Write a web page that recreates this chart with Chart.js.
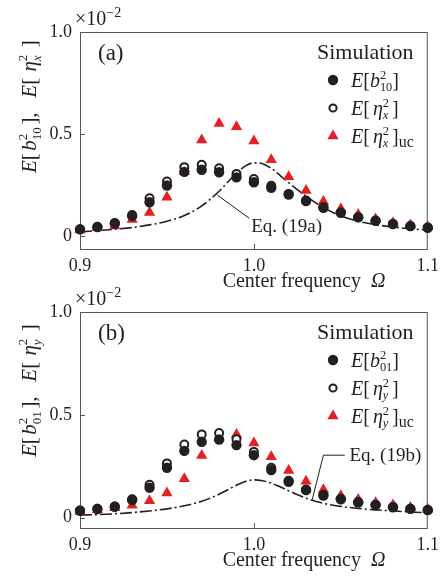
<!DOCTYPE html>
<html>
<head>
<meta charset="utf-8">
<script src="https://cdn.jsdelivr.net/npm/chart.js@4.4.1/dist/chart.umd.min.js"></script>
<style>
  body { margin: 0; background: #fff; }
  #wrap { position: relative; width: 445px; height: 576px; }
  canvas { position: absolute; left: 0; }
</style>
</head>
<body>
<div id="wrap">
  <canvas id="panelA" width="445" height="300" style="top:0"></canvas>
  <canvas id="panelB" width="445" height="296" style="top:280px"></canvas>
</div>
<script>
// center frequency of the excitation
const omega = [0.90, 0.91, 0.92, 0.93, 0.94, 0.95, 0.96, 0.97, 0.98, 0.99, 1.00,
               1.01, 1.02, 1.03, 1.04, 1.05, 1.06, 1.07, 1.08, 1.09, 1.10];
const xTicks = [0.9, 1.0, 1.1];
const yTicks = [0, 0.5, 1.0];

// panel (a), values in units of 1e-2
const b10 = [0.033, 0.044, 0.062, 0.099, 0.166, 0.248, 0.315, 0.325, 0.313, 0.288, 0.264,
             0.237, 0.204, 0.172, 0.139, 0.114, 0.092, 0.075, 0.059, 0.049, 0.041];
const etaX = [0.034, 0.046, 0.064, 0.103, 0.186, 0.268, 0.338, 0.350, 0.332, 0.305, 0.280,
              0.247, 0.207, 0.174, 0.141, 0.116, 0.093, 0.076, 0.060, 0.050, 0.042];
const etaXuc = [0.030, 0.041, 0.050, 0.082, 0.116, 0.190, 0.315, 0.471, 0.552, 0.536, 0.466,
                0.374, 0.291, 0.224, 0.170, 0.134, 0.106, 0.084, 0.066, 0.055, 0.046];

// panel (b)
const b01 = [0.034, 0.042, 0.053, 0.086, 0.146, 0.243, 0.325, 0.369, 0.380, 0.353, 0.304,
             0.232, 0.175, 0.134, 0.108, 0.090, 0.074, 0.062, 0.051, 0.043, 0.037];
const etaY = [0.035, 0.043, 0.054, 0.090, 0.160, 0.264, 0.356, 0.405, 0.412, 0.382, 0.320,
              0.243, 0.180, 0.137, 0.110, 0.092, 0.076, 0.063, 0.052, 0.044, 0.038];
const etaYuc = [0.030, 0.038, 0.048, 0.060, 0.083, 0.120, 0.190, 0.302, 0.388, 0.405, 0.363,
                0.296, 0.229, 0.177, 0.136, 0.107, 0.088, 0.073, 0.062, 0.050, 0.041];

// theory curves Eq. (19a), (19b)
const eqOmega = [0.90, 0.91, 0.92, 0.93, 0.94, 0.95, 0.96, 0.97, 0.98, 0.985, 0.99, 0.995, 1.00,
                 1.005, 1.01, 1.015, 1.02, 1.03, 1.04, 1.05, 1.06, 1.07, 1.08, 1.09, 1.10];
const eq19a = [0.021, 0.027, 0.034, 0.042, 0.055, 0.073, 0.101, 0.148, 0.220, 0.265, 0.308, 0.343, 0.359,
               0.355, 0.332, 0.298, 0.262, 0.196, 0.140, 0.099, 0.073, 0.056, 0.045, 0.036, 0.029];
const eq19b = [0.013, 0.015, 0.019, 0.025, 0.033, 0.043, 0.058, 0.080, 0.114, 0.136, 0.158, 0.176, 0.184,
               0.180, 0.168, 0.150, 0.131, 0.095, 0.070, 0.055, 0.045, 0.038, 0.033, 0.028, 0.024];

const FONT = '"Liberation Serif", "DejaVu Serif", serif';
const INK = '#231f20';
const RED = '#e41f26';

// draws text pieces with italics and stacked super/subscripts, returns width
function drawRich(ctx, x, y, parts, size) {
    let cx = x;
    parts.forEach(p => {
        if (typeof p === 'string') p = { t: p };
        if (p.t !== undefined) {
            ctx.font = (p.it ? 'italic ' : '') + size + 'px ' + FONT;
            ctx.fillText(p.t, cx, y);
            cx += ctx.measureText(p.t).width;
        } else if (p.gap) {
            cx += p.gap * size;
        } else {
            const s = size * (p.scale || 0.62);
            let w = 0;
            if (p.sup) {
                ctx.font = s + 'px ' + FONT;
                ctx.fillText(p.sup, cx, y - size * 0.42);
                w = ctx.measureText(p.sup).width;
            }
            if (p.sub) {
                ctx.font = (p.subIt ? 'italic ' : '') + s + 'px ' + FONT;
                ctx.fillText(p.sub, cx, y + size * 0.22);
                w = Math.max(w, ctx.measureText(p.sub).width);
            }
            cx += w;
        }
    });
    return cx - x;
}

function marker(ctx, kind, x, y) {
    ctx.save();
    ctx.beginPath();
    if (kind === 'tri') {
        const r = 6.5;
        ctx.moveTo(x, y - r);
        ctx.lineTo(x + r * 0.866, y + r * 0.5);
        ctx.lineTo(x - r * 0.866, y + r * 0.5);
        ctx.closePath();
        ctx.fillStyle = RED;
        ctx.fill();
    } else if (kind === 'open') {
        ctx.arc(x, y, 3.6, 0, Math.PI * 2);
        ctx.lineWidth = 2;
        ctx.strokeStyle = INK;
        ctx.stroke();
    } else {
        ctx.arc(x, y, 5.2, 0, Math.PI * 2);
        ctx.fillStyle = INK;
        ctx.fill();
    }
    ctx.restore();
}

function makePanel(canvasId, p) {
    const decor = {
        id: 'decor',
        beforeDatasetsDraw(chart) {
            const { ctx, chartArea: a, scales: { x, y } } = chart;
            ctx.save();
            ctx.strokeStyle = '#555';
            ctx.lineWidth = 1;
            ctx.strokeRect(a.left + 0.5, a.top + 0.5, a.width - 1, a.height);
            ctx.beginPath();
            [0, 0.5].forEach(v => {
                const py = Math.round(y.getPixelForValue(v)) + 0.5;
                ctx.moveTo(a.left, py);
                ctx.lineTo(a.left + 5, py);
            });
            const px = Math.round(x.getPixelForValue(1.0)) + 0.5;
            ctx.moveTo(px, a.bottom);
            ctx.lineTo(px, a.bottom - 5);
            ctx.stroke();
            ctx.restore();
        },
        afterDraw(chart) {
            const { ctx, chartArea: a, scales: { x, y } } = chart;
            ctx.save();
            ctx.fillStyle = INK;
            ctx.textBaseline = 'alphabetic';

            // exponent
            drawRich(ctx, a.left - 5, a.top - 7, ['×10', { sup: '−2', scale: 0.7 }], 20);
            // panel tag
            ctx.font = '23px ' + FONT;
            ctx.fillText(p.tag, a.left + 18, a.top + 28);

            // legend
            ctx.font = '22px ' + FONT;
            ctx.fillText('Simulation', 317, a.top + 27);
            const rows = [['fill', p.leg[0]], ['open', p.leg[1]], ['tri', p.leg[2]]];
            rows.forEach((r, i) => {
                const cy = a.top + 48 + i * 28;
                marker(ctx, r[0], 333, cy);
                ctx.fillStyle = INK;
                drawRich(ctx, 351, cy + 7, r[1], 20);
            });

            // axis titles
            ctx.font = '20px ' + FONT;
            const xt = 'Center frequency  ';
            const w1 = ctx.measureText(xt).width;
            ctx.font = 'italic 20px ' + FONT;
            const w2 = ctx.measureText('Ω').width;
            const x0 = 304 - (w1 + w2) / 2;
            drawRich(ctx, x0, a.bottom + 38, [xt, { t: 'Ω', it: 1 }], 20);

            ctx.save();
            ctx.translate(36, p.yTitleBottom);
            ctx.rotate(-Math.PI / 2);
            drawRich(ctx, 0, 0, p.yTitle, 21);
            ctx.restore();

            // Eq. label with leader line
            ctx.strokeStyle = INK;
            ctx.lineWidth = 1;
            ctx.beginPath();
            p.leader.forEach((pt, i) => {
                const px = x.getPixelForValue(pt[0]), py = y.getPixelForValue(pt[1]);
                if (i === 0) ctx.moveTo(px, py); else ctx.lineTo(px, py);
            });
            ctx.stroke();
            ctx.font = '19px ' + FONT;
            ctx.fillText(p.eqText, x.getPixelForValue(p.eqAt[0]), y.getPixelForValue(p.eqAt[1]));
            ctx.restore();
        }
    };

    return new Chart(document.getElementById(canvasId), {
        type: 'scatter',
        data: {
            datasets: [
                {
                    label: 'filled',
                    data: omega.map((w, i) => ({ x: w, y: p.filled[i] })),
                    pointStyle: 'circle', pointRadius: 5.2, pointBorderWidth: 0,
                    backgroundColor: INK, borderColor: INK, order: 0, clip: false
                },
                {
                    label: 'open',
                    data: omega.map((w, i) => ({ x: w, y: p.open[i] })),
                    pointStyle: 'circle', pointRadius: 4, pointBorderWidth: 2,
                    backgroundColor: '#fff', borderColor: INK, order: 1, clip: false
                },
                {
                    label: 'uc',
                    data: omega.map((w, i) => ({ x: w, y: p.uc[i] })),
                    pointStyle: 'triangle', pointRadius: 6.5, pointBorderWidth: 0,
                    backgroundColor: RED, borderColor: RED, order: 2, clip: false
                },
                {
                    label: 'theory',
                    data: eqOmega.map((w, i) => ({ x: w, y: p.eq[i] })),
                    showLine: true, pointRadius: 0, borderColor: INK, borderWidth: 1.6,
                    borderDash: [12, 3, 2, 3], cubicInterpolationMode: 'monotone', order: 3
                }
            ]
        },
        options: {
            responsive: false,
            animation: false,
            devicePixelRatio: 1,
            layout: { padding: { left: 0, right: 13, top: 32, bottom: p.padBottom } },
            plugins: { legend: { display: false }, tooltip: { enabled: false } },
            scales: {
                x: {
                    type: 'linear', min: 0.9, max: 1.1,
                    afterBuildTicks: s => { s.ticks = xTicks.map(v => ({ value: v })); },
                    afterFit: s => { s.height = 31; },
                    grid: { display: false, drawTicks: false },
                    border: { display: false },
                    ticks: {
                        callback: v => v.toFixed(1), padding: 6, maxRotation: 0, autoSkip: false,
                        color: INK, font: { family: FONT, size: 18 }
                    }
                },
                y: {
                    min: p.yMin, max: 1.0,
                    afterBuildTicks: s => { s.ticks = yTicks.map(v => ({ value: v })); },
                    afterFit: s => { s.width = 80; },
                    grid: { display: false, drawTicks: false },
                    border: { display: false },
                    ticks: {
                        callback: v => (v === 0 ? '0' : v.toFixed(1)), padding: 8,
                        color: INK, font: { family: FONT, size: 18 }
                    }
                }
            }
        },
        plugins: [decor]
    });
}

function yTitleParts(sub, comp) {
    return [{ t: 'E', it: 1 }, '[', { gap: 0.12 }, { t: 'b', it: 1 }, { sup: '2', sub: sub }, { gap: 0.12 }, '],',
            { gap: 0.7 }, { t: 'E', it: 1 }, '[', { gap: 0.3 }, { t: 'η', it: 1 },
            { sup: '2', sub: comp, subIt: 1 }, { gap: 0.35 }, ']'];
}

makePanel('panelA', {
    tag: '(a)', filled: b10, open: etaX, uc: etaXuc, eq: eq19a,
    yMin: -0.063, padBottom: 20, yTitleBottom: 173,
    yTitle: yTitleParts('10', 'x'),
    leg: [
        [{ t: 'E', it: 1 }, '[', { t: 'b', it: 1 }, { sup: '2', sub: '10' }, ']'],
        [{ t: 'E', it: 1 }, '[', { gap: 0.15 }, { t: 'η', it: 1 }, { sup: '2', sub: 'x', subIt: 1 }, { gap: 0.15 }, ']'],
        [{ t: 'E', it: 1 }, '[', { gap: 0.15 }, { t: 'η', it: 1 }, { sup: '2', sub: 'x', subIt: 1 }, { gap: 0.15 }, ']', { sub: 'uc', scale: 0.8 }]
    ],
    leader: [[0.979, 0.201], [0.9974, 0.087]],
    eqText: 'Eq. (19a)', eqAt: [0.9985, 0.02]
});

makePanel('panelB', {
    tag: '(b)', filled: b01, open: etaY, uc: etaYuc, eq: eq19b,
    yMin: -0.05, padBottom: 17, yTitleBottom: 177,
    yTitle: yTitleParts('01', 'y'),
    leg: [
        [{ t: 'E', it: 1 }, '[', { t: 'b', it: 1 }, { sup: '2', sub: '01' }, ']'],
        [{ t: 'E', it: 1 }, '[', { gap: 0.15 }, { t: 'η', it: 1 }, { sup: '2', sub: 'y', subIt: 1 }, { gap: 0.15 }, ']'],
        [{ t: 'E', it: 1 }, '[', { gap: 0.15 }, { t: 'η', it: 1 }, { sup: '2', sub: 'y', subIt: 1 }, { gap: 0.15 }, ']', { sub: 'uc', scale: 0.8 }]
    ],
    leader: [[1.0334, 0.083], [1.040, 0.304], [1.0523, 0.304]],
    eqText: 'Eq. (19b)', eqAt: [1.055, 0.275]
});
</script>
</body>
</html>
